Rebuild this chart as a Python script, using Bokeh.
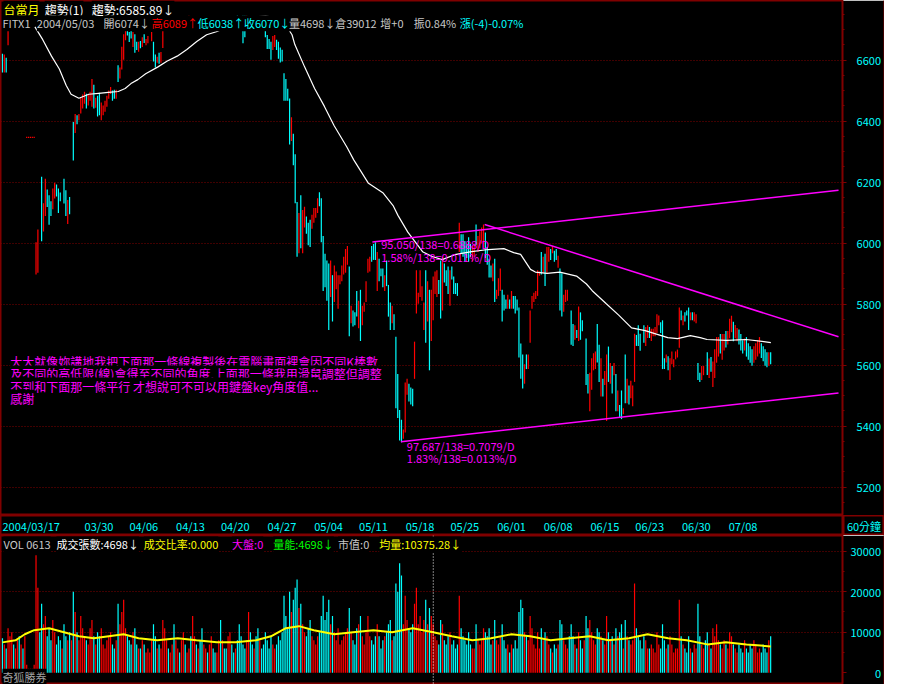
import numpy as np
from bokeh.plotting import figure
from bokeh.models import ColumnDataSource, Range1d, FixedTicker, Label, Span, LinearAxis
from bokeh.layouts import column, row
from bokeh.embed import file_html
from bokeh.resources import INLINE
from bokeh.core.properties import value

# ------------------------------------------------------------------ data
# 60-minute bars: bar slot index, low, high, direction (1 up/red, -1 down/cyan, 0 flat/grey)
s1_idx = [0, 1, 2, 3, 4, 13, 14, 15, 16, 17]
s1_low = [6561, 6561, 6561, 6651, 6702, 6347, 6347, 6347, 6347, 6347]
s1_high = [6619, 6616, 6606, 6709, 6760, 6347, 6347, 6347, 6347, 6347]
s1_dir = [-1, 1, -1, 1, 1, 1, 1, 1, 1, 1]

s2_idx = [18, 19, 21, 22, 23, 24, 25, 26, 27, 28, 29, 30, 31, 33, 34, 35, 36]
s2_low = [5899, 5905, 6008, 6040, 6091, 6120, 6062, 6091, 6113, 6148, 6155, 6101, 6139, 6132, 6091, 6065, 6097]
s2_high = [6001, 6043, 6216, 6129, 6209, 6174, 6155, 6135, 6177, 6196, 6190, 6177, 6164, 6209, 6171, 6139, 6149]
s2_dir = [1, 1, -1, 1, 1, -1, -1, -1, 1, 1, -1, -1, -1, -1, -1, 1, -1]

s3_idx = [38, 39, 40, 41, 42, 43, 44, 45, 46, 47, 48, 49, 50, 51, 52, 53, 54, 55, 56, 57,
          58, 59, 60, 61, 62, 63, 64, 65, 66, 67, 68, 69, 70, 71, 72, 73, 74, 75, 76, 77,
          78, 80, 81, 82, 83, 84, 85, 86]
s3_low = [6273, 6363, 6392, 6405, 6427, 6443, 6459, 6443, 6453, 6469, 6449, 6443, 6446, 6417, 6421, 6405, 6421, 6433, 6449, 6475,
          6491, 6469, 6475, 6475, 6530, 6542, 6571, 6603, 6667, 6683, 6661, 6673, 6645, 6626, 6635, 6629, 6641, 6645, 6658, 6651,
          6657, 6664, 6597, 6578, 6593, 6590, 6593, 6642]
s3_high = [6395, 6421, 6417, 6421, 6475, 6485, 6494, 6488, 6485, 6494, 6536, 6517, 6475, 6481, 6491, 6459, 6449, 6465, 6481, 6498,
           6510, 6498, 6501, 6501, 6581, 6574, 6642, 6683, 6699, 6720, 6690, 6699, 6690, 6683, 6658, 6658, 6661, 6673, 6683, 6667,
           6677, 6690, 6658, 6616, 6609, 6622, 6625, 6760]
s3_dir = [-1, 1, -1, 1, 1, 1, 1, -1, 1, 1, 1, -1, 1, -1, -1, 1, 1, 1, 1, 1,
          1, -1, -1, 1, -1, 1, 1, 1, 1, -1, -1, -1, 1, -1, -1, 1, -1, 1, -1, 1,
          1, 1, -1, -1, 1, -1, 1, 1]

s4_idx = [100, 126, 129, 130, 131]
s4_low = [6709, 6700, 6657, 6677, 6703]
s4_high = [6745, 6745, 6745, 6745, 6745]
s4_dir = [1, -1, -1, -1, 1]

s5_start = 141
s5_low = [6677, 6638, 6638, 6603, 6635, 6645, 6635, 6606, 6594, 6597,
          6469, 6469, 6469, 6325, 6337, 6257, 6133, 5957, 5969, 5985,
          5969, 6053, 6033, 5995, 5989, 6049, 6069, 6085, 6101, 6123,
          6005, 5845, 5857, 5813, 5717, 5825, 5745, 5809, 5851, 5787,
          5867, 5877, 5899, 5905, 5931, 5697, 5739, 5729, 5733, 5761,
          5723, 5681, 5733, 5777, 5809, 5905, 5909, 5941, 5947, 5947,
          5845, 5877, 5893, 5857, 5845, 5861, 5761, 5717, 5739, 5717,
          5461, 5429, 5355, 5349, 5361, 5381, 5505, 5483, 5473, 5467,
          5557, 5771, 5803, 5825, 5813, 5717, 5675, 5745, 5585, 5681,
          5749, 5835, 5825, 5835, 5755, 5781, 5873, 5861, 5835, 5797,
          5883, 5835, 5835, 5829, 5973, 5969, 5957, 5941, 5953, 5941,
          5957, 5941, 5957, 5995, 5973, 5985, 6001, 5985, 5953, 5931,
          5889, 5889, 5877, 5809, 5819, 5829, 5845, 5745, 5781, 5787,
          5787, 5787, 5787, 5787, 5771, 5781, 5627, 5557, 5525, 5541,
          5589, 5589, 5675, 5787, 5809, 5819, 5829, 5895, 5899, 5905,
          5861, 5905, 5941, 5947, 5969, 5941, 5947, 5921, 5781, 5761,
          5777, 5809]
s5_high = [6740, 6680, 6667, 6658, 6677, 6680, 6665, 6658, 6639, 6632,
           6555, 6536, 6504, 6472, 6411, 6357, 6289, 6133, 6097, 6155,
           6107, 6117, 6085, 6065, 6075, 6091, 6113, 6113, 6145, 6165,
           6145, 6021, 5963, 5941, 5931, 5941, 5893, 5925, 5905, 5893,
           5893, 5925, 5953, 5979, 5989, 5921, 5793, 5777, 5771, 5841,
           5809, 5845, 5793, 5803, 5873, 5947, 5953, 5989, 5995, 6001,
           5969, 5947, 5915, 5915, 5893, 5941, 5861, 5803, 5793, 5765,
           5691, 5569, 5451, 5419, 5387, 5541, 5553, 5537, 5525, 5521,
           5675, 5909, 5835, 5909, 5857, 5803, 5909, 5873, 5845, 5845,
           5889, 5905, 5909, 5877, 5941, 5953, 5931, 5909, 5921, 5909,
           5921, 5889, 5867, 5867, 6065, 6027, 6027, 6005, 5995, 6017,
           5995, 5989, 5995, 6059, 6021, 6037, 6049, 6059, 6033, 5985,
           5947, 5925, 5931, 5947, 5845, 5883, 5915, 5845, 5829, 5813,
           5829, 5813, 5841, 5825, 5825, 5813, 5787, 5669, 5633, 5601,
           5633, 5633, 5777, 5825, 5835, 5841, 5909, 5905, 5969, 5953,
           5963, 5985, 5985, 5979, 5989, 5973, 5979, 5957, 5915, 5899,
           5829, 5845]
s5_dir = [-1, -1, -1, -1, 1, 1, -1, -1, -1, -1,
          -1, -1, -1, -1, 1, -1, -1, -1, 1, -1,
          1, 1, -1, -1, -1, 1, 1, 1, 1, -1,
          -1, -1, -1, -1, -1, 1, -1, 1, 1, 1,
          1, 1, 1, 1, 1, -1, 1, -1, -1, -1,
          1, -1, 1, 1, 1, 1, 1, -1, -1, -1,
          1, -1, -1, -1, 1, -1, -1, -1, 1, -1,
          -1, -1, -1, -1, 1, 1, 1, -1, -1, -1,
          1, 1, 1, 1, 1, 1, -1, 1, -1, 1,
          1, 1, 1, -1, -1, 1, -1, -1, -1, 1,
          -1, -1, -1, -1, 1, -1, -1, -1, -1, -1,
          -1, 1, 1, -1, 1, 1, 1, 1, -1, -1,
          -1, -1, 1, -1, 1, 1, 1, -1, -1, -1,
          1, -1, 1, -1, -1, -1, -1, -1, -1, 1,
          -1, 1, 1, 1, 1, 1, 1, 1, -1, 1,
          -1, 1, 1, -1, 1, -1, -1, 1, -1, -1,
          1, 1]

s6_idx = [303, 305, 306, 307, 308, 309, 310, 311, 313, 314,
          315, 316, 317, 318, 319, 320, 321, 322, 323, 324,
          325, 326, 327, 328, 329, 330, 331, 332, 333, 334,
          335, 336, 337, 338, 339, 340, 341, 342, 344, 345,
          346, 347, 348, 349, 350, 351, 352, 353, 354, 355,
          356, 357, 358, 359, 360, 361, 362, 363, 364, 365,
          366, 367, 368, 369, 370, 371, 372, 373, 374, 375,
          376]
s6_low = [5813, 5669, 5665, 5685, 5691, 5681, 5685, 5713, 5537, 5509,
          5451, 5521, 5585, 5589, 5611, 5547, 5499, 5499, 5537, 5419,
          5547, 5541, 5509, 5569, 5451, 5451, 5429, 5425, 5441, 5477,
          5477, 5473, 5493, 5467, 5547, 5665, 5665, 5649, 5675, 5665,
          5691, 5691, 5681, 5697, 5697, 5707, 5733, 5707, 5589, 5589,
          5611, 5585, 5553, 5605, 5595, 5621, 5627, 5659, 5749, 5733,
          5745, 5765, 5717, 5749, 5749, 5745, 5739, 5553, 5547, 5553,
          5569]
s6_high = [5845, 5777, 5733, 5729, 5713, 5790, 5771, 5745, 5685, 5569,
           5573, 5621, 5637, 5643, 5733, 5665, 5621, 5553, 5579, 5633,
           5659, 5605, 5595, 5605, 5569, 5515, 5467, 5515, 5457, 5633,
           5553, 5531, 5547, 5531, 5701, 5697, 5729, 5701, 5729, 5723,
           5729, 5723, 5717, 5717, 5723, 5765, 5761, 5739, 5745, 5621,
           5633, 5627, 5621, 5643, 5617, 5643, 5649, 5787, 5777, 5761,
           5771, 5777, 5787, 5771, 5771, 5771, 5765, 5605, 5573, 5595,
           5595]
s6_dir = [1, -1, -1, 1, -1, 1, -1, -1, -1, -1,
          1, 1, 1, 1, -1, -1, 1, -1, 1, 1,
          -1, 1, -1, 1, -1, 1, -1, -1, 1, -1,
          1, -1, 1, 1, 1, -1, -1, -1, -1, 1,
          1, -1, 1, 1, 1, 1, 1, -1, -1, -1,
          1, -1, 1, 1, 1, 1, 1, 1, -1, 1,
          -1, -1, -1, 1, -1, 1, 1, -1, -1, 1,
          1]

s7_start = 378
s7_low = [5570, 5560, 5580, 5530, 5560, 5610, 5630, 5640, 5620, 5650,
          5660, 5670, 5690, 5710, 5680, 5690, 5680, 5670, 5650, 5640,
          5650, 5630, 5620, 5610, 5600, 5610, 5620, 5630, 5640, 5625,
          5615, 5600, 5595, 5600, 5605]
s7_high = [5640, 5620, 5625, 5610, 5650, 5690, 5690, 5700, 5700, 5700,
           5710, 5710, 5750, 5760, 5740, 5730, 5720, 5715, 5700, 5680,
           5685, 5690, 5670, 5660, 5650, 5660, 5670, 5680, 5690, 5670,
           5660, 5650, 5640, 5640, 5640]
s7_dir = [-1, 1, -1, 1, 1, 1, 1, -1, 1, 1,
          -1, 1, 1, 1, -1, 1, 1, -1, -1, -1,
          1, -1, -1, -1, -1, 1, 1, 1, 1, -1,
          -1, -1, -1, 1, -1]

# slots whose candle is off-scale / unreadable: direction used for the volume colour
gap_idx = [5, 6, 7, 8, 9, 10, 11, 12, 20, 32, 37, 79,
           87, 88, 89, 90, 91, 92, 93, 94, 95, 96, 97, 98, 99,
           101, 102, 103, 104, 105, 106, 107, 108, 109, 110, 111, 112, 113, 114, 115,
           116, 117, 118, 119, 120, 121, 122, 123, 124, 125, 127, 128,
           132, 133, 134, 135, 136, 137, 138, 139, 140, 304, 312, 343, 377]
gap_dir = [1, -1, 1, 1, -1, 1, -1, 1, -1, 1, 1, 1,
           1, 1, -1, 1, 1, -1, 1, 1, -1, 1, 1, -1, 1,
           -1, 1, 1, -1, 1, -1, -1, 1, 1, -1, 1, 1, -1, -1, 1,
           1, -1, 1, -1, -1, 1, 1, -1, -1, 1, -1, -1,
           1, -1, -1, 1, -1, -1, 1, -1, -1, -1, 1, -1, -1]

# white moving-average line (bar slot, value)
ma_idx = [17.4, 21.6, 26.3, 30.5, 34.2, 36.8, 41.0, 46.3, 51.6, 56.8, 62.1, 65.8, 68.9, 72.6, 76.8,
          83.2, 88.4, 93.7, 98.9, 104.2, 109.5, 114.7, 120.0, 125.3, 133.2, 141.1, 149.0, 152.6,
          155.3, 156.8, 162.1, 167.4, 172.6, 177.9, 184.7, 188.4, 196.3, 204.2, 209.5, 212.1,
          217.4, 225.3, 230.5, 235.8, 242.6, 251.6, 260.5, 268.9, 274.2, 277.9, 283.2, 285.8,
          292.1, 298.9, 307.9, 313.2, 316.3, 323.7, 330.5, 337.4, 344.7, 351.6, 356.8, 362.1,
          368.9, 374.2, 377.9, 388.4, 398.9, 412.1]
ma_val = [6709, 6667, 6613, 6571, 6517, 6488, 6475, 6488, 6491, 6494, 6497, 6507, 6523, 6536, 6555,
          6577, 6597, 6613, 6635, 6661, 6683, 6693, 6706, 6725, 6740, 6745, 6735, 6709,
          6683, 6651, 6577, 6507, 6449, 6385, 6315, 6273, 6196, 6164, 6123, 6091,
          6036, 5972, 5956, 5946, 5962, 5972, 5979, 5982, 5969, 5963, 5914, 5905,
          5901, 5905, 5892, 5866, 5844, 5802, 5764, 5722, 5713, 5700, 5690, 5687,
          5697, 5690, 5684, 5681, 5684, 5674]

# magenta trend lines: upper channel, falling resistance, lower channel
trend_x0 = [198.4, 258.6, 213.7]
trend_y0 = [6004, 6061, 5349]
trend_x1 = [448.4, 448.4, 448.4]
trend_y1 = [6173, 5693, 5509]

# volume per bar slot 0..412, thousands of contracts
vol_k = [8.5, 7, 6, 11, 9, 10, 7, 6, 8, 9,
         7, 6, 9, 2, 1, 1, 1, 2, 29, 21,
         10, 17, 12, 14, 9, 11, 8, 13, 10, 7,
         9, 8, 6, 12, 9, 8, 10, 8, 20, 15,
         10, 8, 14, 11, 9, 8, 7, 11, 13, 9,
         7, 10, 9, 11, 7, 6, 8, 9, 10, 7,
         6, 8, 17, 12, 15, 18, 11, 9, 8, 7,
         10, 11, 7, 6, 6, 8, 7, 5, 6, 5,
         8, 12, 9, 6, 7, 6, 13, 11, 8, 6,
         5, 7, 12, 8, 6, 5, 8, 10, 7, 5,
         6, 9, 14, 9, 7, 6, 8, 11, 7, 6,
         5, 7, 9, 6, 5, 5, 8, 13, 8, 6,
         6, 9, 10, 7, 5, 6, 8, 12, 9, 7,
         6, 8, 15, 10, 7, 6, 9, 11, 8, 6,
         7, 10, 8, 6, 9, 7, 6, 7, 9, 8,
         10, 19, 14, 11, 20, 15, 18, 21, 23, 16,
         17, 12, 10, 9, 11, 13, 9, 8, 7, 9,
         10, 14, 19, 13, 15, 18, 12, 14, 10, 8,
         11, 7, 8, 9, 10, 11, 16, 10, 8, 7,
         11, 12, 14, 9, 7, 10, 14, 9, 8, 7,
         9, 12, 9, 6, 8, 9, 10, 12, 13, 8,
         9, 22, 20, 27, 24, 12, 19, 13, 11, 10,
         12, 17, 21, 12, 14, 10, 13, 18, 12, 16,
         14, 12, 9, 8, 7, 13, 12, 8, 7, 9,
         10, 7, 8, 6, 7, 19, 11, 9, 8, 7,
         10, 7, 6, 6, 12, 8, 7, 8, 11, 10,
         9, 11, 7, 8, 13, 8, 7, 9, 12, 8,
         6, 7, 5, 7, 6, 8, 6, 15, 18, 16,
         10, 9, 8, 14, 11, 7, 6, 10, 6, 11,
         8, 10, 9, 7, 6, 5, 7, 6, 7, 13,
         12, 8, 7, 6, 9, 12, 9, 7, 6, 10,
         8, 6, 8, 14, 11, 13, 10, 8, 7, 11,
         10, 9, 8, 7, 14, 10, 8, 9, 7, 11,
         9, 10, 12, 6, 13, 9, 8, 7, 8, 22,
         11, 9, 8, 6, 9, 8, 6, 6, 7, 6,
         5, 10, 7, 6, 12, 8, 6, 7, 9, 7,
         5, 6, 6, 18, 9, 7, 6, 5, 9, 6,
         5, 7, 6, 17, 9, 7, 6, 8, 10, 7,
         6, 11, 9, 12, 8, 7, 6, 8, 7, 6,
         10, 9, 7, 6, 5, 7, 6, 5, 8, 6,
         5, 7, 6, 8, 7, 5, 6, 5, 7, 6,
         5, 8, 9]

# yellow volume average line (bar slot, thousands)
vma_idx = [0, 7, 12, 17, 25, 33, 41, 49, 57, 65, 73, 83, 94, 104, 115, 125, 136, 144, 152,
           159, 167, 178, 188, 199, 209, 220, 231, 241, 252, 262, 273, 283, 294, 304, 315,
           325, 336, 346, 357, 367, 378, 388, 399, 412]
vma_k = [7.5, 8.0, 9.5, 10.5, 11.0, 10.0, 9.0, 8.5, 9.0, 9.5, 8.5, 8.0, 8.5, 8.0, 7.5, 7.5,
         8.0, 9.0, 11.0, 11.5, 10.5, 9.5, 10.0, 10.5, 10.0, 11.0, 10.0, 9.0, 8.0, 8.5, 9.5,
         9.0, 8.0, 8.5, 9.0, 8.0, 8.5, 9.5, 8.5, 8.0, 7.0, 7.5, 7.0, 6.5]

date_start = [0, 44, 68, 93, 117, 142, 167, 191, 216, 240, 265, 290, 315, 339, 364, 389]
date_labels = ["2004/03/17", "03/30", "04/06", "04/13", "04/20", "04/27", "05/04", "05/11",
               "05/18", "05/25", "06/01", "06/08", "06/15", "06/23", "06/30", "07/08"]

price_ticks = [5200, 5400, 5600, 5800, 6000, 6200, 6400, 6600]
vol_ticks = [0, 10000, 20000, 30000]

# ------------------------------------------------------------------ geometry
W, H = 884, 684
SX, SY = W / 900.0, H / 700.0
BAR_PX = 1.9
REF_FRAME_W = 858
REF_PRICE_H = 527
REF_DATE_H = 20
REF_VOL_TOP = 548
REF_VOL_H = 152
P_TOP, P_PER_PX = 6795.4, 3.2037
V_TOP, V_PER_PX = 33871.0, 241.9

X0 = -2.0 / BAR_PX
X1 = X0 + REF_FRAME_W / BAR_PX


def rx(px):
    return X0 + px / BAR_PX


def ry(py):
    return P_TOP - py * P_PER_PX


def rv(py):
    return V_TOP - (py - REF_VOL_TOP) * V_PER_PX


frame_w = round(REF_FRAME_W * SX)
right_w = W - frame_w
price_frame_h = round(REF_PRICE_H * SY)
date_h = round(REF_DATE_H * SY)
p2_h = H - price_frame_h - date_h

UP, DOWN, FLAT = "#FF0000", "#00FFFF", "#C0C0C0"
GRID = "#800000"
MAG = "#FF00FF"
LIGHT = "#C8C8C8"
FONT = "Noto Sans CJK TC"


def col(d):
    return UP if d > 0 else (DOWN if d < 0 else FLAT)


bx = (s1_idx + s2_idx + s3_idx + s4_idx + list(range(s5_start, s5_start + len(s5_low)))
      + s6_idx + list(range(s7_start, s7_start + len(s7_low))))
blo = s1_low + s2_low + s3_low + s4_low + s5_low + s6_low + s7_low
bhi = s1_high + s2_high + s3_high + s4_high + s5_high + s6_high + s7_high
bdir = s1_dir + s2_dir + s3_dir + s4_dir + s5_dir + s6_dir + s7_dir
bars = ColumnDataSource(dict(x=bx, lo=blo, hi=bhi, c=[col(d) for d in bdir]))

dir_of = dict(zip(bx, bdir))
dir_of.update(dict(zip(gap_idx, gap_dir)))
vol_x = list(range(len(vol_k)))
vol_v = [k * 1000 for k in vol_k]
vsrc = ColumnDataSource(dict(x=vol_x, v=vol_v, z=[0] * len(vol_v),
                             c=[col(dir_of.get(i, 0)) for i in vol_x]))


def style_right_axis(ax, ticks, minor):
    ax.ticker = FixedTicker(ticks=ticks, minor_ticks=minor)
    ax.major_label_overrides = {t: "\u2007" * (5 - len(str(t))) + str(t) for t in ticks}
    ax.axis_line_color = GRID
    ax.major_tick_line_color = GRID
    ax.minor_tick_line_color = GRID
    ax.major_tick_in = 0
    ax.major_tick_out = 4
    ax.minor_tick_in = 0
    ax.minor_tick_out = 2
    ax.major_label_standoff = 4
    ax.major_label_text_color = DOWN
    ax.major_label_text_font = FONT
    ax.major_label_text_font_size = "11px"


def add_edge(fig):
    # a bare axis whose line draws the outer right border of the chart window
    edge = LinearAxis(axis_line_color=GRID, axis_line_width=2,
                      major_tick_line_color=None, minor_tick_line_color=None,
                      major_tick_in=0, major_tick_out=0, minor_tick_in=0, minor_tick_out=0,
                      major_label_text_font_size="0px", major_label_standoff=0,
                      ticker=FixedTicker(ticks=[]))
    fig.add_layout(edge, "right")


def lab(fig, text, px, yv, color, size="11px", bg=True):
    fig.add_layout(Label(x=rx(px), y=yv, text=text, text_color=color, text_font=FONT,
                         text_font_size=size, text_baseline="top", text_align="left",
                         background_fill_color="black" if bg else None))


def base_fig(width, height, x_range, y_range, right):
    return figure(width=width, height=height, x_range=x_range, y_range=y_range,
                  output_backend="svg", toolbar_location=None,
                  y_axis_location="right" if right else None, x_axis_location=None,
                  background_fill_color="black", border_fill_color="black",
                  min_border_left=0, min_border_top=0,
                  min_border_right=right_w if right else 0, min_border_bottom=0,
                  outline_line_color=GRID, outline_line_width=2)


# ------------------------------------------------------------------ price panel
p1 = base_fig(W, price_frame_h, Range1d(X0, X1),
              Range1d(P_TOP - REF_PRICE_H * P_PER_PX, P_TOP), True)
p1.xgrid.grid_line_color = None
p1.ygrid.ticker = FixedTicker(ticks=price_ticks)
p1.ygrid.grid_line_color = GRID
p1.ygrid.grid_line_dash = "1 2"
style_right_axis(p1.yaxis[0], price_ticks,
                 [v for v in range(5150, 6800, 50) if v not in price_ticks])
add_edge(p1)

p1.segment(x0="x", y0="lo", x1="x", y1="hi", source=bars, line_color="c",
           line_width=1.2, line_cap="square")
p1.line(ma_idx, ma_val, line_color="white", line_width=1.2)
p1.segment(x0=trend_x0, y0=trend_y0, x1=trend_x1, y1=trend_y1, line_color=MAG, line_width=1.5)

for t, px, c in [("台當月", 3, "#FFFF00"), ("趨勢(1)", 45, "#FFFFFF"), ("趨勢:6585.89↓", 93, "#FFFFFF")]:
    lab(p1, t, px, ry(0), c, size="12px")
for t, px, c in [("FITX1", 2, LIGHT), ("2004/05/03", 37, LIGHT), ("開6074↓", 105, LIGHT),
                 ("高6089↑", 154, UP), ("低6038↑", 201, DOWN), ("收6070↓", 248, DOWN),
                 ("量4698↓", 294, LIGHT), ("倉39012", 341, LIGHT), ("增+0", 387, LIGHT),
                 ("振0.84%", 421, LIGHT), ("漲(-4)-0.07%", 468, DOWN)]:
    lab(p1, t, px, ry(15), c)

for t, px, py in [("95.050/138=0.6888/D", 388, 241), ("1.58%/138=0.011%/D", 388, 254),
                  ("97.687/138=0.7079/D", 414, 448), ("1.83%/138=0.013%/D", 414, 460)]:
    lab(p1, t, px, ry(py), MAG, bg=False)

comment = ["大大就像妳講地我把下面那一條線複製後在電腦畫面裡會因不同K棒數",
           "及不同的高低限(線)會得至不同的角度,上面那一條我用滑鼠調整但調整",
           "不到和下面那一條平行 才想說可不可以用鍵盤key角度值...",
           "感謝"]
for k, t in enumerate(comment):
    lab(p1, t, 10, ry(361 + 12.4 * k), MAG, size="12px")

# ------------------------------------------------------------------ date strip
pd = base_fig(frame_w, date_h, p1.x_range, Range1d(0, 1), False)
pd.grid.visible = False
pd.text(x=date_start, y=[0.5] * len(date_start), text=date_labels, text_color=DOWN,
        text_font=value(FONT), text_font_size="11px", text_align="left",
        text_baseline="middle")

pc = base_fig(right_w, date_h, Range1d(0, 1), Range1d(0, 1), False)
pc.grid.visible = False
pc.text(x=[0.5], y=[0.5], text=["60分鐘"], text_color=DOWN, text_font=value(FONT),
        text_font_size="11px", text_align="center", text_baseline="middle")

# ------------------------------------------------------------------ volume panel
p2 = base_fig(W, p2_h, p1.x_range, Range1d(V_TOP - REF_VOL_H * V_PER_PX, V_TOP), True)
p2.xgrid.grid_line_color = None
p2.ygrid.ticker = FixedTicker(ticks=[10000, 20000, 30000])
p2.ygrid.grid_line_color = GRID
p2.ygrid.grid_line_dash = "1 2"
style_right_axis(p2.yaxis[0], vol_ticks, [5000, 15000, 25000])
add_edge(p2)

p2.segment(x0="x", y0="z", x1="x", y1="v", source=vsrc, line_color="c", line_width=1.2)
p2.line(vma_idx, [k * 1000 for k in vma_k], line_color="#FFFF00", line_width=2)
p2.add_layout(Span(location=rx(441), dimension="height", line_color="white",
                   line_dash="1 2", line_width=1))

for t, px, c in [("VOL 0613", 3, LIGHT), ("成交張數:4698↓", 57, "#FFFFFF"),
                 ("成交比率:0.000", 146, "#FFFF00"), ("大盤:0", 236, MAG),
                 ("量能:4698↓", 278, "#00FF00"), ("市值:0", 344, LIGHT),
                 ("均量:10375.28↓", 386, "#FFFF00")]:
    lab(p2, t, px, rv(549), c)
lab(p2, "奇狐勝券", 2, rv(684), "#A0A0A0")

layout = column(p1, row(pd, pc), p2)
open("out.html", "w").write(file_html(layout, INLINE))
